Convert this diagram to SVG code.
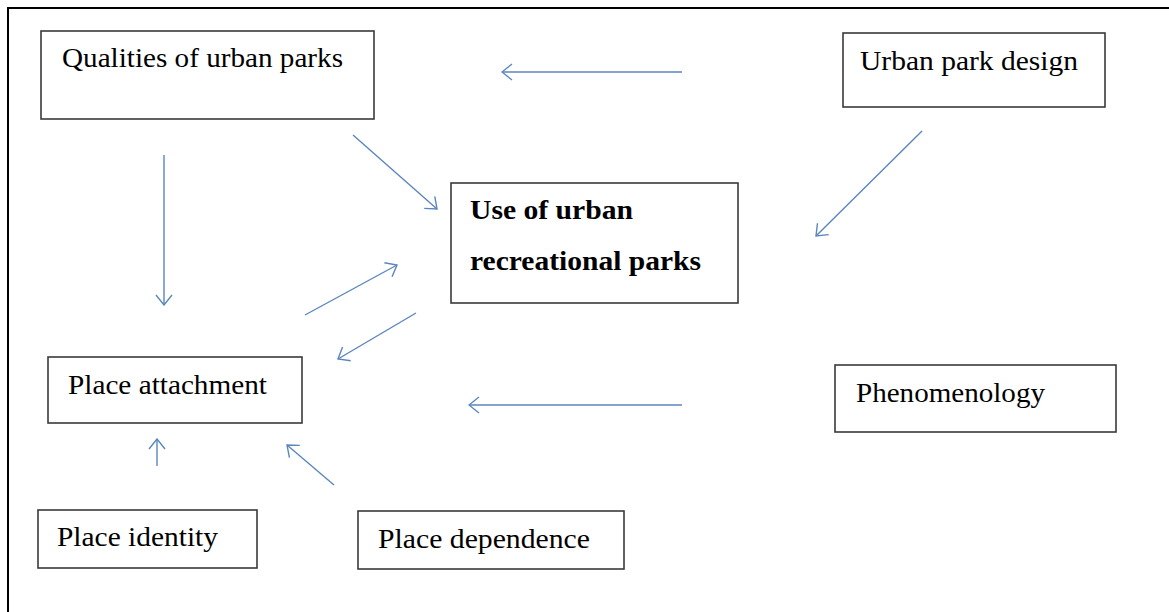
<svg xmlns="http://www.w3.org/2000/svg" width="1169" height="612" viewBox="0 0 1169 612">
<style>
.box{fill:#fff;stroke:#3a3a3a;stroke-width:1.6}
.t{font-family:"Liberation Serif","Times New Roman",serif;font-size:28px;fill:#000}
.b{font-weight:bold}
.c{stroke:#5b86bd;stroke-width:1.4;fill:none}
</style>
<defs>
<marker id="ah" viewBox="0 0 12 18" refX="11" refY="9" markerWidth="12" markerHeight="18" markerUnits="userSpaceOnUse" orient="auto">
<path d="M1,1 L11,9 L1,17" fill="none" stroke="#5b86bd" stroke-width="1.4"/>
</marker>
</defs>
<rect x="0" y="0" width="1169" height="612" fill="#fff"/>
<path d="M8,612 L8,8 L1169,8" fill="none" stroke="#000" stroke-width="2"/>
<g id="connectors">
<line class="c" x1="682" y1="72" x2="502" y2="72" marker-end="url(#ah)"/>
<line class="c" x1="353" y1="135" x2="437" y2="209" marker-end="url(#ah)"/>
<line class="c" x1="922" y1="131" x2="816" y2="236" marker-end="url(#ah)"/>
<line class="c" x1="164" y1="155" x2="164" y2="305" marker-end="url(#ah)"/>
<line class="c" x1="305" y1="315" x2="397" y2="265" marker-end="url(#ah)"/>
<line class="c" x1="416" y1="313" x2="338" y2="359" marker-end="url(#ah)"/>
<line class="c" x1="682" y1="405" x2="469" y2="405" marker-end="url(#ah)"/>
<line class="c" x1="157" y1="466" x2="157" y2="439" marker-end="url(#ah)"/>
<line class="c" x1="334" y1="485" x2="287" y2="445" marker-end="url(#ah)"/>
</g>
<g id="qualities">
<rect class="box" x="41" y="31" width="333" height="88"/>
<text class="t" x="62" y="67" textLength="281" lengthAdjust="spacingAndGlyphs">Qualities of urban parks</text>
</g>
<g id="design">
<rect class="box" x="843" y="33" width="262" height="74"/>
<text class="t" x="860" y="70" textLength="218" lengthAdjust="spacingAndGlyphs">Urban park design</text>
</g>
<g id="use">
<rect class="box" x="451" y="183" width="287" height="120"/>
<text class="t b" x="470" y="219" textLength="163" lengthAdjust="spacingAndGlyphs">Use of urban</text>
<text class="t b" x="470" y="270" textLength="231" lengthAdjust="spacingAndGlyphs">recreational parks</text>
</g>
<g id="attachment">
<rect class="box" x="48" y="357" width="254" height="66"/>
<text class="t" x="68" y="394" textLength="199" lengthAdjust="spacingAndGlyphs">Place attachment</text>
</g>
<g id="phenomenology">
<rect class="box" x="835" y="365" width="281" height="67"/>
<text class="t" x="856" y="402" textLength="189" lengthAdjust="spacingAndGlyphs">Phenomenology</text>
</g>
<g id="identity">
<rect class="box" x="38" y="510" width="219" height="58"/>
<text class="t" x="57" y="546" textLength="161" lengthAdjust="spacingAndGlyphs">Place identity</text>
</g>
<g id="dependence">
<rect class="box" x="358" y="511" width="266" height="58"/>
<text class="t" x="378" y="548" textLength="212" lengthAdjust="spacingAndGlyphs">Place dependence</text>
</g>
</svg>
